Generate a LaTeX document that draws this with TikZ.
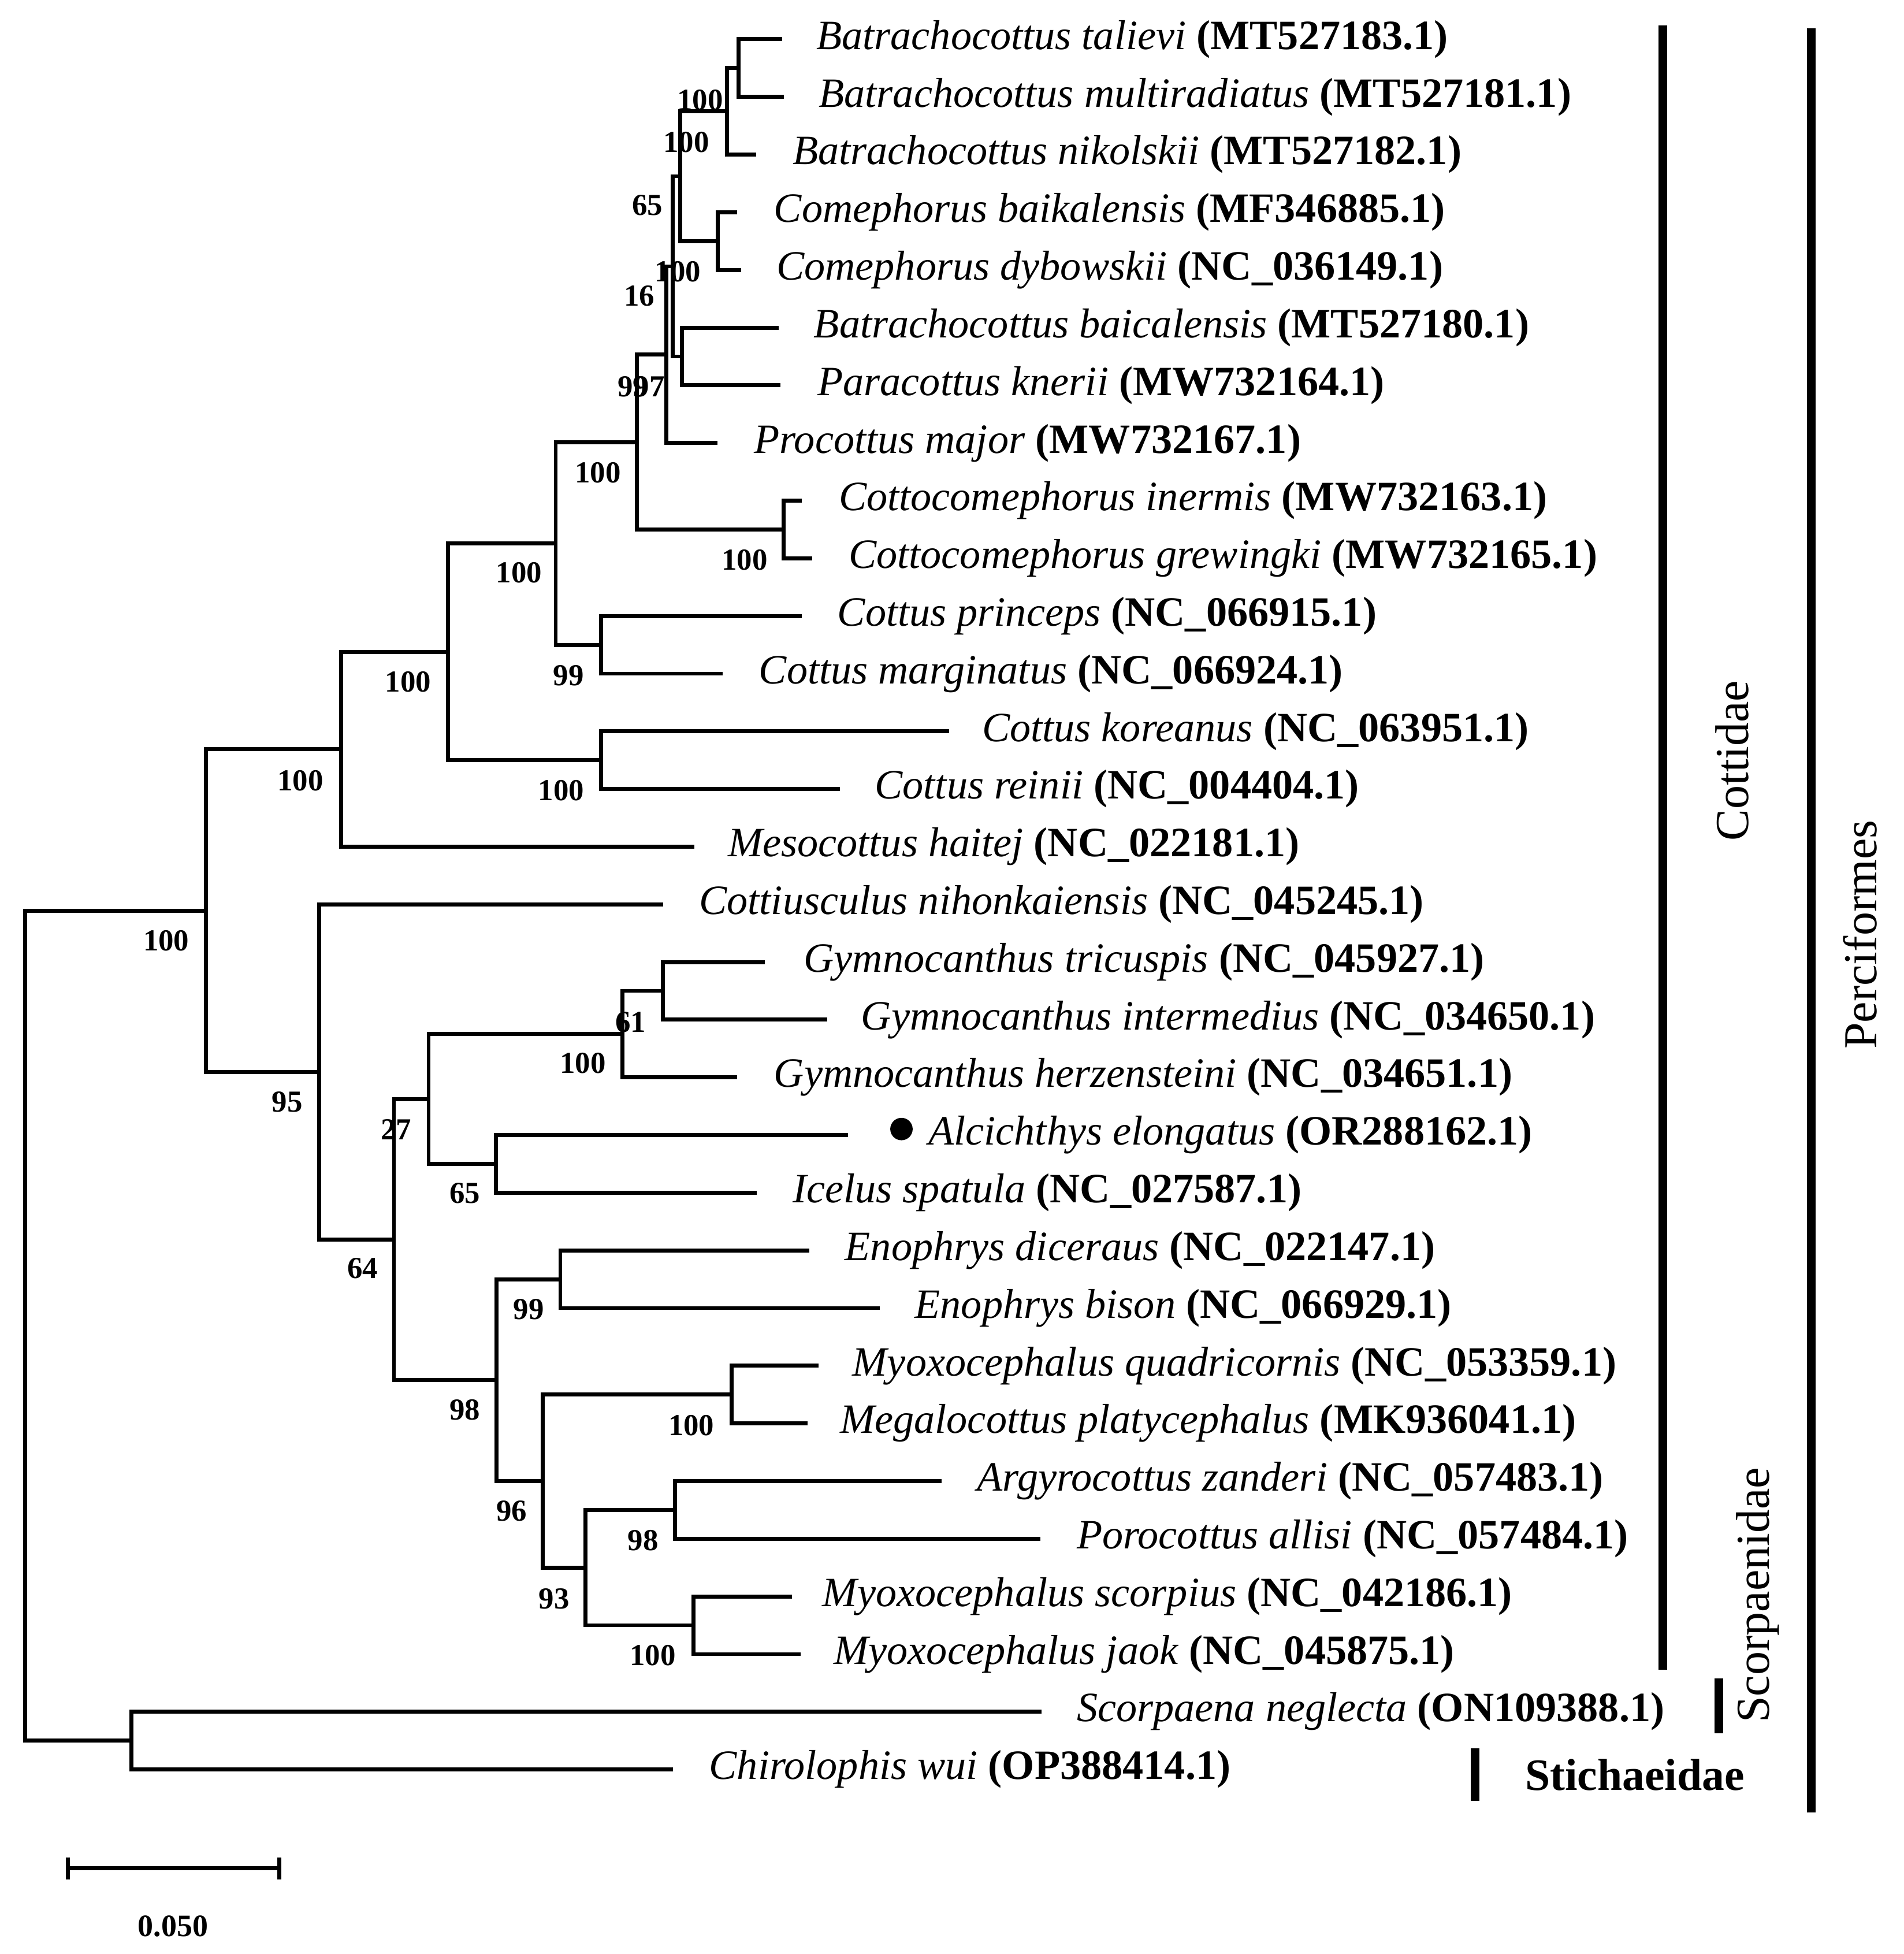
\documentclass[tikz,border=0pt]{standalone}
\usepackage{fontspec}
\setmainfont{Liberation Serif}
\begin{document}
\begin{tikzpicture}[x=1pt,y=-1pt,
  br/.style={line width=3.2pt},
  taxon/.style={anchor=base west, inner sep=0pt, font=\fontsize{33.5}{40}\selectfont},
  boot/.style={inner sep=0pt, font=\bfseries\fontsize{24.5}{28}\selectfont},
  bar/.style={line width=7pt},
  clade/.style={inner sep=0pt, font=\fontsize{38}{44}\selectfont, rotate=90}]
\useasboundingbox[fill=white] (0,0) rectangle (1528,1568);
% leaves (branch tips)
\coordinate (L1) at (627.7,31.5);
\coordinate (L2) at (629,77.78);
\coordinate (L3) at (606.8,124.06);
\coordinate (L4) at (591.7,170.34);
\coordinate (L5) at (594.6,216.62);
\coordinate (L6) at (624.8,262.9);
\coordinate (L7) at (626.2,309.18);
\coordinate (L8) at (575.9,355.46);
\coordinate (L9) at (643.5,401.74);
\coordinate (L10) at (651.7,448.02);
\coordinate (L11) at (643.5,494.3);
\coordinate (L12) at (579.9,540.58);
\coordinate (L13) at (761.8,586.86);
\coordinate (L14) at (673.9,633.14);
\coordinate (L15) at (557.1,679.42);
\coordinate (L16) at (532.4,725.7);
\coordinate (L17) at (613.8,771.98);
\coordinate (L18) at (663.7,818.26);
\coordinate (L19) at (591.8,864.54);
\coordinate (L20) at (680.6,910.82);
\coordinate (L21) at (607.3,957.1);
\coordinate (L22) at (649.7,1003.38);
\coordinate (L23) at (706,1049.66);
\coordinate (L24) at (656.9,1095.94);
\coordinate (L25) at (648.1,1142.22);
\coordinate (L26) at (755.5,1188.5);
\coordinate (L27) at (835,1234.78);
\coordinate (L28) at (635.8,1281.06);
\coordinate (L29) at (642.4,1327.34);
\coordinate (L30) at (836,1373.62);
\coordinate (L31) at (540.3,1419.9);
% internal nodes
\coordinate (n12) at (592.8,54.64);
\coordinate (n123) at (583.3,89.35);
\coordinate (n45) at (575.9,193.48);
\coordinate (nA) at (545.8,141.42);
\coordinate (n67) at (547.3,286.04);
\coordinate (nB) at (539.9,213.73);
\coordinate (nD) at (534.6,284.6);
\coordinate (n910) at (628.7,424.88);
\coordinate (nE) at (511.3,354.74);
\coordinate (n1112) at (482.3,517.44);
\coordinate (nF) at (446,436.09);
\coordinate (n1314) at (482.3,610.0);
\coordinate (nG) at (359.4,523.05);
\coordinate (nH) at (273.7,601.24);
\coordinate (n1718) at (532,795.12);
\coordinate (n1719) at (499.7,829.83);
\coordinate (n2021) at (398.2,933.96);
\coordinate (nL) at (344,881.9);
\coordinate (n2223) at (449.7,1026.52);
\coordinate (n2425) at (587,1119.08);
\coordinate (n2627) at (541.9,1211.64);
\coordinate (n2829) at (556.4,1304.2);
\coordinate (nO) at (470,1257.92);
\coordinate (nN) at (435.4,1188.5);
\coordinate (nM) at (398.4,1107.51);
\coordinate (nK) at (316.2,994.71);
\coordinate (nJ) at (256.3,860.2);
\coordinate (nI) at (165.3,730.72);
\coordinate (nout) at (105.6,1396.76);
\coordinate (root) at (20.2,1063.74);
% branches
\foreach \p/\c in {n12/L1,n12/L2,n123/n12,n123/L3,n45/L4,n45/L5,nA/n123,nA/n45,
  n67/L6,n67/L7,nB/nA,nB/n67,nD/nB,nD/L8,n910/L9,n910/L10,nE/nD,nE/n910,
  n1112/L11,n1112/L12,nF/nE,nF/n1112,n1314/L13,n1314/L14,nG/nF,nG/n1314,
  nH/nG,nH/L15,n1718/L17,n1718/L18,n1719/n1718,n1719/L19,n2021/L20,n2021/L21,
  nL/n1719,nL/n2021,n2223/L22,n2223/L23,n2425/L24,n2425/L25,n2627/L26,n2627/L27,
  n2829/L28,n2829/L29,nO/n2627,nO/n2829,nN/n2425,nN/nO,nM/n2223,nM/nN,
  nK/nL,nK/nM,nJ/L16,nJ/nK,nI/nH,nI/nJ,nout/L30,nout/L31,root/nI,root/nout}
  \draw[br] (\p) |- (\c);
% taxon labels
\node[taxon] (t1) at (655,39.5) {\textit{Batrachocottus talievi} \textbf{(MT527183.1)}};
\node[taxon] (t2) at (657,85.8) {\textit{Batrachocottus multiradiatus} \textbf{(MT527181.1)}};
\node[taxon] (t3) at (636,132.1) {\textit{Batrachocottus nikolskii} \textbf{(MT527182.1)}};
\node[taxon] (t4) at (621,178.3) {\textit{Comephorus baikalensis} \textbf{(MF346885.1)}};
\node[taxon] (t5) at (623,224.6) {\textit{Comephorus dybowskii} \textbf{(NC\_036149.1)}};
\node[taxon] (t6) at (653,270.9) {\textit{Batrachocottus baicalensis} \textbf{(MT527180.1)}};
\node[taxon] (t7) at (656,317.2) {\textit{Paracottus knerii} \textbf{(MW732164.1)}};
\node[taxon] (t8) at (605,363.5) {\textit{Procottus major} \textbf{(MW732167.1)}};
\node[taxon] (t9) at (673,409.7) {\textit{Cottocomephorus inermis} \textbf{(MW732163.1)}};
\node[taxon] (t10) at (681,456) {\textit{Cottocomephorus grewingki} \textbf{(MW732165.1)}};
\node[taxon] (t11) at (672,502.3) {\textit{Cottus princeps} \textbf{(NC\_066915.1)}};
\node[taxon] (t12) at (609,548.6) {\textit{Cottus marginatus} \textbf{(NC\_066924.1)}};
\node[taxon] (t13) at (788,594.9) {\textit{Cottus koreanus} \textbf{(NC\_063951.1)}};
\node[taxon] (t14) at (702,641.1) {\textit{Cottus reinii} \textbf{(NC\_004404.1)}};
\node[taxon] (t15) at (584,687.4) {\textit{Mesocottus haitej} \textbf{(NC\_022181.1)}};
\node[taxon] (t16) at (561,733.7) {\textit{Cottiusculus nihonkaiensis} \textbf{(NC\_045245.1)}};
\node[taxon] (t17) at (645,780) {\textit{Gymnocanthus tricuspis} \textbf{(NC\_045927.1)}};
\node[taxon] (t18) at (691,826.3) {\textit{Gymnocanthus intermedius} \textbf{(NC\_034650.1)}};
\node[taxon] (t19) at (621,872.5) {\textit{Gymnocanthus herzensteini} \textbf{(NC\_034651.1)}};
\node[taxon] (t20) at (745,918.8) {\textit{Alcichthys elongatus} \textbf{(OR288162.1)}};
\node[taxon] (t21) at (636,965.1) {\textit{Icelus spatula} \textbf{(NC\_027587.1)}};
\node[taxon] (t22) at (678,1011.4) {\textit{Enophrys diceraus} \textbf{(NC\_022147.1)}};
\node[taxon] (t23) at (734,1057.7) {\textit{Enophrys bison} \textbf{(NC\_066929.1)}};
\node[taxon] (t24) at (684,1103.9) {\textit{Myoxocephalus quadricornis} \textbf{(NC\_053359.1)}};
\node[taxon] (t25) at (674,1150.2) {\textit{Megalocottus platycephalus} \textbf{(MK936041.1)}};
\node[taxon] (t26) at (784,1196.5) {\textit{Argyrocottus zanderi} \textbf{(NC\_057483.1)}};
\node[taxon] (t27) at (864,1242.8) {\textit{Porocottus allisi} \textbf{(NC\_057484.1)}};
\node[taxon] (t28) at (660,1289.1) {\textit{Myoxocephalus scorpius} \textbf{(NC\_042186.1)}};
\node[taxon] (t29) at (669,1335.3) {\textit{Myoxocephalus jaok} \textbf{(NC\_045875.1)}};
\node[taxon] (t30) at (864,1381.6) {\textit{Scorpaena neglecta} \textbf{(ON109388.1)}};
\node[taxon] (t31) at (569,1427.9) {\textit{Chirolophis wui} \textbf{(OP388414.1)}};
\node[circle, fill=black, inner sep=0pt, minimum size=18pt] (dot) at (723.5,906) {};
% bootstrap values
\node[boot] (b1) at (561.9,80.4) {100};
\node[boot] (b2) at (550.8,114) {100};
\node[boot] (b3) at (519.7,164.9) {65};
\node[boot] (b4) at (544,218) {100};
\node[boot] (b5) at (513,237.7) {16};
\node[boot] (b6) at (508,310.4) {99};
\node[boot] (b7) at (521.2,310.4) {97};
\node[boot] (b8) at (479.9,379.4) {100};
\node[boot] (b9) at (597.6,449.3) {100};
\node[boot] (b10) at (416.5,459.5) {100};
\node[boot] (b11) at (456.3,542) {99};
\node[boot] (b12) at (327.5,547) {100};
\node[boot] (b13) at (450.4,634.2) {100};
\node[boot] (b14) at (241,626.3) {100};
\node[boot] (b15) at (133.4,754.8) {100};
\node[boot] (b16) at (230.6,884.2) {95};
\node[boot] (b17) at (506.2,820.5) {61};
\node[boot] (b18) at (467.8,853) {100};
\node[boot] (b19) at (317.9,906.3) {27};
\node[boot] (b20) at (373.2,957.6) {65};
\node[boot] (b21) at (291,1018) {64};
\node[boot] (b22) at (424.3,1050.8) {99};
\node[boot] (b23) at (373.2,1131.2) {98};
\node[boot] (b24) at (554.8,1143.9) {100};
\node[boot] (b25) at (410.7,1212.5) {96};
\node[boot] (b26) at (516.2,1236) {98};
\node[boot] (b27) at (444.8,1282.8) {93};
\node[boot] (b28) at (523.8,1328.5) {100};
% clade bars and labels
\draw[bar] (1334.4,20.2) -- (1334.4,1339.7);
\draw[bar] (1453.6,22.9) -- (1453.6,1454.3);
\draw[bar] (1379.4,1346.7) -- (1379.4,1391.1);
\draw[bar] (1183.9,1403) -- (1183.9,1445);
\node[clade] (cot) at (1390,610.4) {Cottidae};
\node[clade] (per) at (1493,750) {Perciformes};
\node[clade] (sco) at (1410.7,1280) {Scorpaenidae};
\node[inner sep=0pt, font=\bfseries\fontsize{36}{42}\selectfont] (sti) at (1312,1424) {Stichaeidae};
% scale bar
\coordinate (s1) at (54.3,1499.3);
\coordinate (s2) at (224.2,1499.3);
\draw[br] (s1) -- (s2);
\draw[br] (54.3,1490.7) -- (54.3,1508);
\draw[br] (224.2,1490.7) -- (224.2,1508);
\node[boot, font=\bfseries\fontsize{25}{30}\selectfont] (sl) at (138.8,1545.5) {0.050};
\end{tikzpicture}
\end{document}
